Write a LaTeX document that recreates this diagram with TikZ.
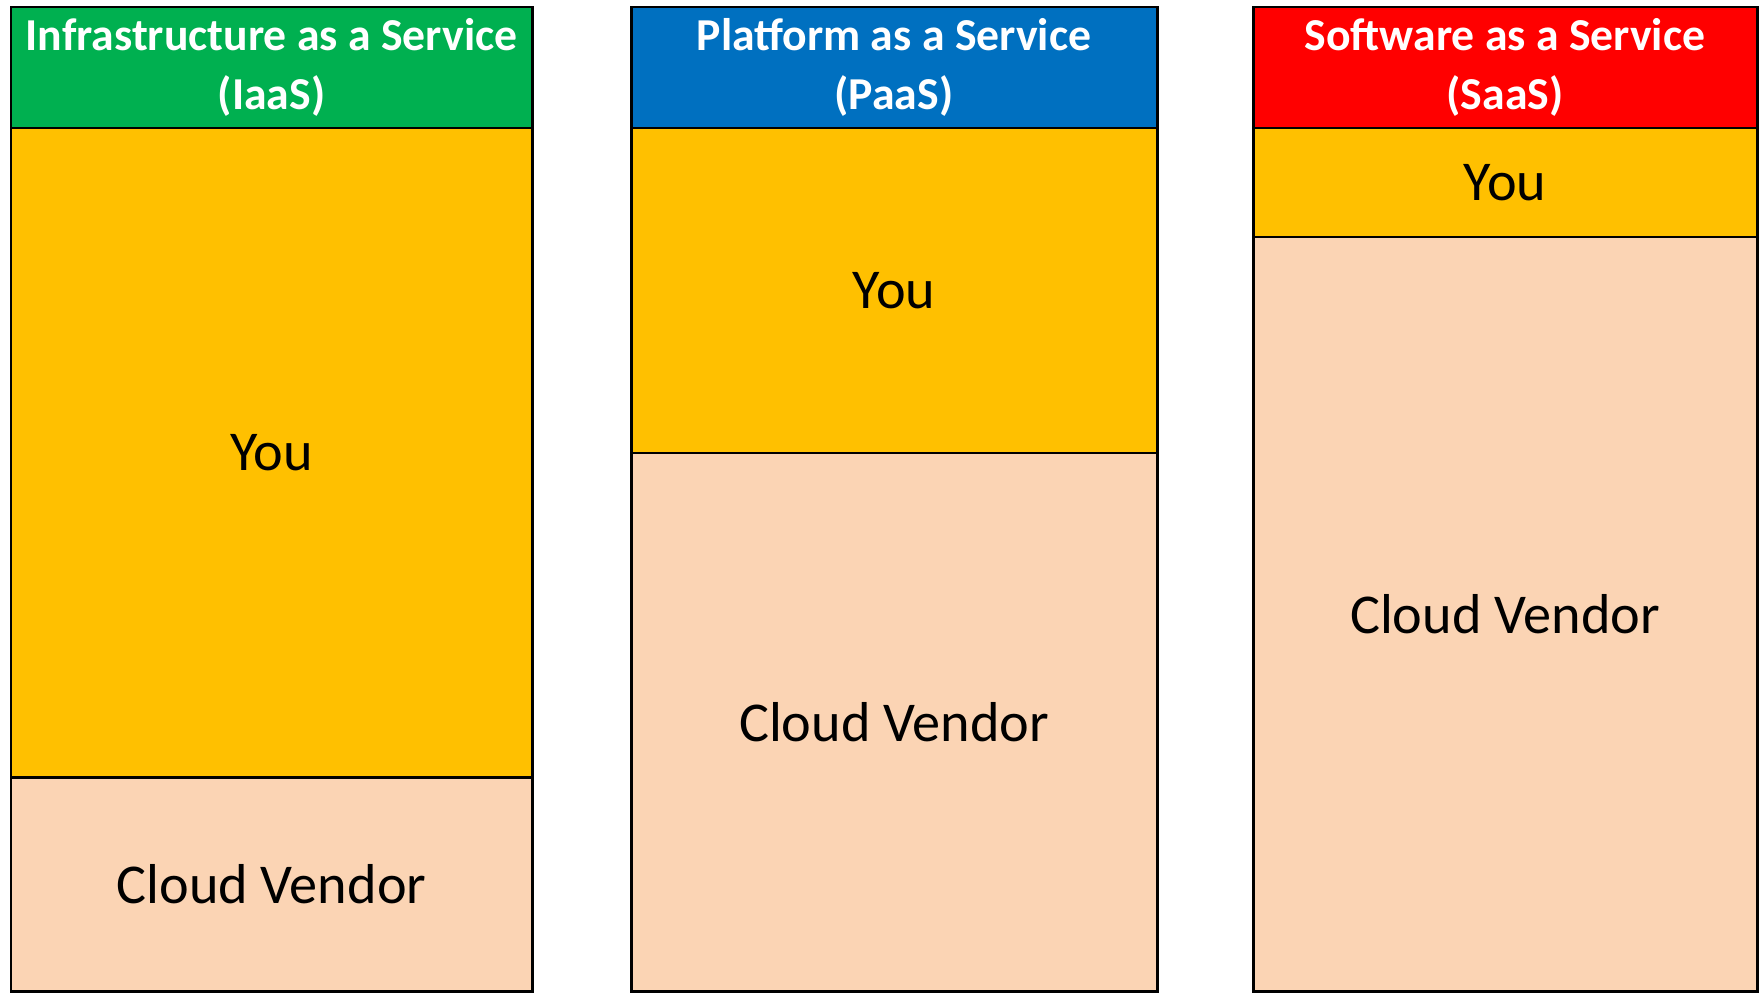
\documentclass[tikz,border=0pt]{standalone}
\usepackage{fontspec}
\setmainfont{Carlito}
\usepackage{xcolor}
\usetikzlibrary{positioning}
\definecolor{iaasgreen}{HTML}{00B050}
\definecolor{paasblue}{HTML}{0070C0}
\definecolor{saasred}{HTML}{FF0000}
\definecolor{youorange}{HTML}{FFC000}
\definecolor{vendorpeach}{HTML}{FBD4B4}
\tikzset{
  cloudcell/.style={draw=black, line width=0.85pt, inner sep=0pt, outer sep=0pt},
  headcell/.style={cloudcell, align=center, text=white, font=\fontsize{13}{17}\selectfont\bfseries},
  youcell/.style={cloudcell, fill=youorange, font=\fontsize{16}{19}\selectfont},
  vendorcell/.style={cloudcell, fill=vendorpeach, font=\fontsize{16}{19}\selectfont}
}

\begin{document}
\begin{tikzpicture}
        \newcommand{\cloudfigtop}{9.85}
        \newcommand{\cloudfigheadheight}{1.21}
        \newcommand{\cloudfigbottom}{0.01}
        \newcommand{\cloudfigax}{0.11}
        \newcommand{\cloudfigawidth}{5.21}
        \newcommand{\cloudfigayou}{6.49}
        \newcommand{\cloudfigbx}{6.31}
        \newcommand{\cloudfigbwidth}{5.26}
        \newcommand{\cloudfigbyou}{3.25}
        \newcommand{\cloudfigcx}{12.53}
        \newcommand{\cloudfigcwidth}{5.04}
        \newcommand{\cloudfigcyou}{1.09}
        \newcommand{\cloudfigrest}{\cloudfigtop-\cloudfigheadheight-\cloudfigbottom}
        \useasboundingbox (0,0) rectangle (17.64,9.92);
        % IaaS
        \node[headcell, fill=iaasgreen, anchor=north west, minimum width=\cloudfigawidth cm, minimum height=\cloudfigheadheight cm] (iaashead) at (\cloudfigax,\cloudfigtop) {Infrastructure as a Service\\(IaaS)};
        \node[youcell, below=0pt of iaashead, minimum width=\cloudfigawidth cm, minimum height=\cloudfigayou cm] (iaasyou) {You};
        \node[vendorcell, below=0pt of iaasyou, minimum width=\cloudfigawidth cm, minimum height={(\cloudfigrest-\cloudfigayou)*1cm}] (iaasvendor) {Cloud Vendor};
        % PaaS
        \node[headcell, fill=paasblue, anchor=north west, minimum width=\cloudfigbwidth cm, minimum height=\cloudfigheadheight cm] (paashead) at (\cloudfigbx,\cloudfigtop) {Platform as a Service\\(PaaS)};
        \node[youcell, below=0pt of paashead, minimum width=\cloudfigbwidth cm, minimum height=\cloudfigbyou cm] (paasyou) {You};
        \node[vendorcell, below=0pt of paasyou, minimum width=\cloudfigbwidth cm, minimum height={(\cloudfigrest-\cloudfigbyou)*1cm}] (paasvendor) {Cloud Vendor};
        % SaaS
        \node[headcell, fill=saasred, anchor=north west, minimum width=\cloudfigcwidth cm, minimum height=\cloudfigheadheight cm] (saashead) at (\cloudfigcx,\cloudfigtop) {Software as a Service\\(SaaS)};
        \node[youcell, below=0pt of saashead, minimum width=\cloudfigcwidth cm, minimum height=\cloudfigcyou cm] (saasyou) {You};
        \node[vendorcell, below=0pt of saasyou, minimum width=\cloudfigcwidth cm, minimum height={(\cloudfigrest-\cloudfigcyou)*1cm}] (saasvendor) {Cloud Vendor};
    \end{tikzpicture}
\end{document}
